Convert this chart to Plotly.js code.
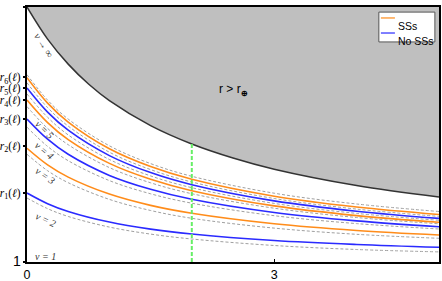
<!DOCTYPE html>
<html>
<head>
<meta charset="utf-8">
<script src="https://cdn.plot.ly/plotly-3.0.1.min.js"></script>
<style>html,body{margin:0;padding:0;background:#fff;}#plot{width:442px;height:281px;}</style>
</head>
<body>
<div id="plot"></div>
<script>
// x grid of the read curves
const xs = [0, 0.25, 0.5, 1, 1.5, 2, 3, 4, 5];
// SSs (orange) curves
const ssLow  = [5.459, 4.808, 4.329, 3.663, 3.220, 2.910, 2.498, 2.235, 2.059];
const ssMid  = [7.353, 6.467, 5.800, 4.867, 4.243, 3.796, 3.200, 2.820, 2.557];
const ssHigh = [8.227, 7.231, 6.486, 5.439, 4.741, 4.243, 3.580, 3.157, 2.863];
// No SSs (blue) curves
const noLow  = [3.706, 3.288, 2.982, 2.565, 2.290, 2.098, 1.843, 1.686, 1.576];
const noMid  = [6.608, 5.816, 5.224, 4.396, 3.851, 3.459, 2.941, 2.612, 2.384];
const noHigh = [7.824, 6.878, 6.169, 5.173, 4.506, 4.031, 3.396, 2.992, 2.710];
// grey dashed reference curves
const dash0 = [8.345, 7.349, 6.604, 5.557, 4.859, 4.361, 3.698, 3.275, 2.980];
const dash1 = [8.027, 7.055, 6.329, 5.306, 4.624, 4.137, 3.490, 3.075, 2.788];
const dash2 = [7.588, 6.675, 5.984, 5.020, 4.376, 3.914, 3.298, 2.906, 2.635];
const dash3 = [7.094, 6.239, 5.600, 4.702, 4.106, 3.678, 3.110, 2.745, 2.498];
const dash4 = [6.286, 5.533, 4.973, 4.192, 3.675, 3.306, 2.816, 2.506, 2.294];
const dash5 = [5.224, 4.580, 4.110, 3.455, 3.020, 2.714, 2.329, 2.086, 1.929];
const dash6 = [3.510, 3.092, 2.786, 2.369, 2.094, 1.902, 1.647, 1.490, 1.396];
// r* boundary (nu -> infinity)
const bndX = [0, 0.25, 0.5, 0.75, 1, 1.5, 2, 2.5, 3, 4, 5];
const bndY = [11.0, 9.74, 8.76, 7.97, 7.33, 6.35, 5.63, 5.08, 4.64, 4.00, 3.55];
const yTop = 11;
const markerX = 2;
// tick labels
const xTickVals = [0, 3];
const xTickText = ['0', '3'];
const yTickVals = [1, 3.71, 5.55, 6.61, 7.35, 7.82, 8.25, 11];
const yTickText = ['<span style="font-family:Liberation Sans;font-size:14px">1</span>',
  '<i>r</i><sub>1</sub>(<i>ℓ</i>)', '<i>r</i><sub>2</sub>(<i>ℓ</i>)', '<i>r</i><sub>3</sub>(<i>ℓ</i>)',
  '<i>r</i><sub>4</sub>(<i>ℓ</i>)', '<i>r</i><sub>5</sub>(<i>ℓ</i>)', '<i>r</i><sub>6</sub>(<i>ℓ</i>)',
  '<i>r</i><sup>*</sup>(<i>ℓ</i>)'];
const nuLabels = ['ν = 1', 'ν = 2', 'ν = 3', 'ν = 4', 'ν = 5', 'ν → ∞'];
const nuLabelX = [0.22, 0.22, 0.22, 0.21, 0.21, 0.21];
const nuLabelY = [1.20, 2.65, 4.41, 5.39, 6.20, 9.51];
const nuLabelAngle = [0, 25, 35, 40, 45, 58];

const ORANGE = '#ff8c1a', BLUE = '#2a2aff', GREY = '#a0a0a0';
const traces = [];
traces.push({x: [0, 5], y: [yTop, yTop], mode: 'lines', line: {width: 0}, hoverinfo: 'skip', showlegend: false});
traces.push({x: bndX, y: bndY, mode: 'lines', fill: 'tonexty', fillcolor: '#bfbfbf',
  line: {color: '#333333', width: 1.5, shape: 'spline'}, showlegend: false});
[dash0, dash1, dash2, dash3, dash4, dash5, dash6].forEach(d => traces.push({
  x: xs, y: d, mode: 'lines', line: {color: GREY, width: 1, dash: '3px,2px', shape: 'spline'}, showlegend: false}));
[ssLow, ssMid, ssHigh].forEach(d => traces.push({
  x: xs, y: d, mode: 'lines', line: {color: ORANGE, width: 1.6, shape: 'spline'}, showlegend: false}));
[noLow, noMid, noHigh].forEach(d => traces.push({
  x: xs, y: d, mode: 'lines', line: {color: BLUE, width: 1.6, shape: 'spline'}, showlegend: false}));
traces.push({x: [markerX, markerX], y: [1, bndY[6]], mode: 'lines',
  line: {color: '#66ee66', width: 2, dash: '4px,2px'}, showlegend: false});

const annotations = nuLabels.map((t, i) => ({
  x: nuLabelX[i], y: nuLabelY[i], text: '<i>' + t + '</i>', showarrow: false,
  textangle: nuLabelAngle[i], font: {family: 'Liberation Serif', size: 10, color: '#333'}
}));
annotations.push({x: 2.5, y: 7.75, text: 'r &gt; r<sub><b>⊕</b></sub>', showarrow: false,
  font: {family: 'Liberation Sans', size: 12, color: '#000'}});
// legend texts
annotations.push({xref: 'paper', yref: 'paper', x: 0.895, y: 0.957, xanchor: 'left', text: 'SSs',
  showarrow: false, font: {family: 'Liberation Sans', size: 10.5, color: '#000'}});
annotations.push({xref: 'paper', yref: 'paper', x: 0.895, y: 0.898, xanchor: 'left', text: 'No SSs',
  showarrow: false, font: {family: 'Liberation Sans', size: 10.5, color: '#000'}});

const shapes = [
  {type: 'rect', xref: 'paper', yref: 'paper', x0: 0.854, x1: 0.990, y0: 0.863, y1: 0.980,
   line: {color: '#555', width: 1}, fillcolor: '#fff'},
  {type: 'line', xref: 'paper', yref: 'paper', x0: 0.859, x1: 0.893, y0: 0.957, y1: 0.957, line: {color: ORANGE, width: 1.2}},
  {type: 'line', xref: 'paper', yref: 'paper', x0: 0.859, x1: 0.893, y0: 0.898, y1: 0.898, line: {color: BLUE, width: 1.2}}
];

const layout = {
  width: 442, height: 281,
  margin: {l: 27, r: 3, t: 7, b: 19, pad: 0},
  paper_bgcolor: '#fff', plot_bgcolor: '#fff',
  showlegend: false,
  xaxis: {range: [0, 5], tickvals: xTickVals, ticktext: xTickText, showgrid: false, zeroline: false,
    showline: true, linecolor: '#000', linewidth: 2, mirror: true, ticks: 'inside', ticklen: 3,
    tickcolor: '#000', ticklabelstandoff: 0, tickfont: {family: 'Liberation Sans', size: 12.5, color: '#000'}},
  yaxis: {range: [1, 11], tickvals: yTickVals, ticktext: yTickText, showgrid: false, zeroline: false,
    showline: true, linecolor: '#000', linewidth: 2, mirror: true, ticks: 'outside', ticklen: 2,
    tickwidth: 2, tickcolor: '#000', ticklabelstandoff: 0, tickfont: {family: 'Liberation Serif', size: 11.5, color: '#000'}},
  annotations: annotations,
  shapes: shapes
};
Plotly.newPlot('plot', traces, layout, {staticPlot: true, displayModeBar: false});
</script>
</body>
</html>
